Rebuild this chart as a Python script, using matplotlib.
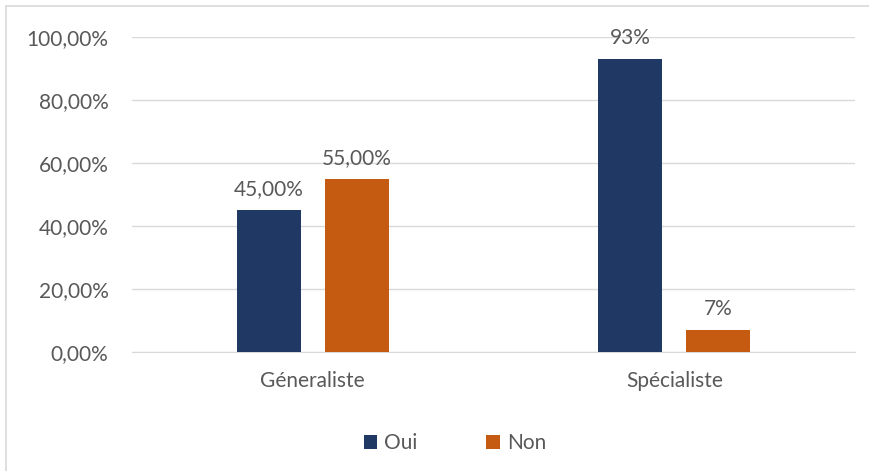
import numpy as np
import matplotlib
matplotlib.use("Agg")
import matplotlib.pyplot as plt
from matplotlib.patches import Rectangle

categories = ["Géneraliste", "Spécialiste"]
oui = [0.45, 0.93]
non = [0.55, 0.07]
oui_labels = ["45,00%", "93%"]
non_labels = ["55,00%", "7%"]
yticks = [0, 0.2, 0.4, 0.6, 0.8, 1.0]
ytick_labels = ["0,00%", "20,00%", "40,00%", "60,00%", "80,00%", "100,00%"]

navy = "#203864"
orange = "#C55A11"
grey_txt = "#595959"
grid_c = "#D9D9D9"
fs = 15

plt.rcParams['font.family'] = ['Lato', 'DejaVu Sans']

fig = plt.figure(figsize=(8.69, 4.71), dpi=100)
# light outer frame (only left/top visible in the reference)
fig.patches.append(Rectangle((6/869, -0.1), 1.2, (471-6)/471 + 0.1,
                             transform=fig.transFigure, fill=False,
                             edgecolor="#D9D9D9", linewidth=1.2))

ax = fig.add_axes([132/869, 1-352/471, (855-132)/869, (352-37)/471])

x = np.arange(len(categories))
w = 0.177
off = 0.122
b1 = ax.bar(x - off, oui, w, color=navy, label="Oui", zorder=3)
b2 = ax.bar(x + off, non, w, color=orange, label="Non", zorder=3)

for bars, labs in [(b1, oui_labels), (b2, non_labels)]:
    for rect, lab in zip(bars, labs):
        ax.annotate(lab, (rect.get_x() + rect.get_width()/2, rect.get_height()),
                    xytext=(0, 8), textcoords="offset points", ha="center",
                    va="bottom", fontsize=fs, color=grey_txt, annotation_clip=False)

ax.set_xlim(-0.5, 1.5)
ax.set_ylim(0, 1.0)
ax.set_yticks(yticks)
ax.set_yticklabels(ytick_labels)
ax.set_xticks(x)
ax.set_xticklabels(categories)
ax.tick_params(axis="both", length=0, labelsize=fs, colors=grey_txt)
ax.tick_params(axis="y", pad=17)
ax.tick_params(axis="x", pad=14)
ax.yaxis.grid(True, color=grid_c, linewidth=1, zorder=0)
for s in ["top", "right", "left"]:
    ax.spines[s].set_visible(False)
ax.spines["bottom"].set_color(grid_c)
ax.spines["bottom"].set_zorder(1)

leg = fig.legend(handles=[b1, b2], labels=["Oui", "Non"], loc="center",
                 bbox_to_anchor=(455/869, 1-443/471), ncol=2, frameon=False,
                 fontsize=fs, handlelength=0.65, handleheight=0.65,
                 columnspacing=3.3, handletextpad=0.35)
for t in leg.get_texts():
    t.set_color(grey_txt)

fig.savefig("out.png", dpi=100)
